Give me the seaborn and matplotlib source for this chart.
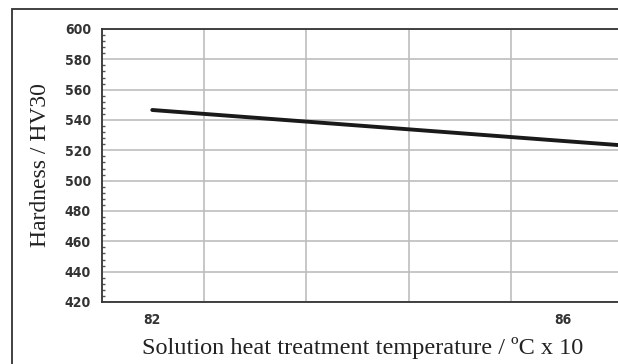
import matplotlib
matplotlib.use("Agg")
import matplotlib.pyplot as plt
import seaborn as sns
import pandas as pd
from matplotlib.patches import Rectangle
from matplotlib.ticker import FixedLocator, MultipleLocator
from matplotlib import font_manager

temperature = [82.0, 83.0, 84.0, 85.0, 86.0, 86.6]
hardness = [546.6, 541.5, 536.4, 531.3, 526.2, 523.2]
y_ticks = [420, 440, 460, 480, 500, 520, 540, 560, 580, 600]
x_tick_labels = [82, 86]
x_grid = [82.5, 83.5, 84.5, 85.5]

df = pd.DataFrame({"temp": temperature, "hv": hardness})

names = {f.name for f in font_manager.fontManager.ttflist}
tick_family = "Liberation Sans Narrow" if "Liberation Sans Narrow" in names else "DejaVu Sans"
tick_stretch = "normal" if tick_family == "Liberation Sans Narrow" else "condensed"

sns.set_theme(style="white")
fig = plt.figure(figsize=(6.18, 3.64), dpi=100)
ax = fig.add_axes([102/618, 1 - 302/364, (618 - 102)/618 + 0.01, (302 - 29)/364])

sns.lineplot(data=df, x="temp", y="hv", ax=ax, color="#1a1a1a", linewidth=2.8)

ax.set_xlim(81.51, 86.6)
ax.set_ylim(420, 600)
ax.set_yticks(y_ticks)
ax.set_yticklabels([str(v) for v in y_ticks], fontsize=10, color="#333333",
                   family=tick_family, fontstretch=tick_stretch, fontweight="bold")
ax.set_xticks(x_tick_labels)
ax.set_xticklabels([str(v) for v in x_tick_labels], fontsize=10, color="#333333",
                   family=tick_family, fontstretch=tick_stretch, fontweight="bold")
ax.xaxis.set_minor_locator(FixedLocator(x_grid))
ax.yaxis.set_minor_locator(MultipleLocator(4))

ax.grid(False)
ax.grid(True, which="major", axis="y", color="#bdbdbd", linewidth=1.2)
ax.grid(True, which="minor", axis="x", color="#bdbdbd", linewidth=1.2)
for s in ["left", "bottom", "top"]:
    ax.spines[s].set_color("#333333")
    ax.spines[s].set_linewidth(1.3)
ax.spines["right"].set_visible(False)
ax.tick_params(axis="both", which="major", length=0, pad=8)
ax.tick_params(axis="x", which="major", pad=8)
ax.tick_params(axis="y", which="minor", length=2, direction="in", color="#555555", left=True)
ax.tick_params(axis="x", which="minor", length=0)

ax.set_xlabel("Solution heat treatment temperature / ºC x 10", family="Liberation Serif",
              fontsize=17.5, color="#222222", labelpad=7)
ax.set_ylabel("Hardness / HV30", family="Liberation Serif", fontsize=17,
              color="#222222", labelpad=10)

fig.patches.append(Rectangle((12/618, -0.01), 1.0, 1 - 9/364 + 0.01, transform=fig.transFigure,
                             fill=False, edgecolor="#333333", linewidth=1.3))

fig.savefig("out.png", dpi=100)
